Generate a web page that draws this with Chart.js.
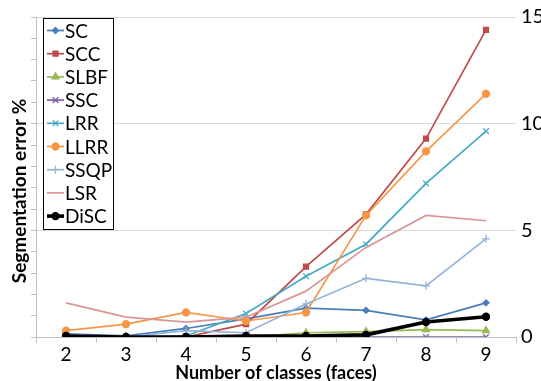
<!DOCTYPE html>
<html>
<head>
<meta charset="utf-8">
<script src="https://cdn.jsdelivr.net/npm/chart.js@4/dist/chart.umd.min.js"></script>
<style>
  html, body { margin: 0; padding: 0; background: #fff; }
  #wrap { width: 541px; height: 381px; }
</style>
</head>
<body>
<div id="wrap"><canvas id="chartSeg" width="541" height="381"></canvas></div>
<script>
// ---------- datos ----------
const classes = ['2', '3', '4', '5', '6', '7', '8', '9'];

const scValues   = [0.15, 0.05, 0.4, 0.85, 1.35, 1.25, 0.8, 1.6];
const sccValues  = [0.05, 0, 0, 0.6, 3.3, 5.75, 9.3, 14.4];
const slbfValues = [0, 0, 0, 0, 0.2, 0.25, 0.35, 0.3];
const sscValues  = [0, 0, 0, 0, 0, 0, 0, 0];
const lrrValues  = [0.05, 0, 0.05, 1.1, 2.85, 4.35, 7.2, 9.65];
const llrrValues = [0.3, 0.6, 1.15, 0.75, 1.15, 5.7, 8.7, 11.4];
const ssqpValues = [0.1, 0, 0.3, 0.2, 1.55, 2.75, 2.4, 4.6];
const lsrValues  = [1.6, 0.93, 0.7, 0.93, 2.15, 4.2, 5.7, 5.45];
const discValues = [0.05, 0, 0, 0.05, 0.05, 0.1, 0.7, 0.95];

const rightTicks = [0, 5, 10, 15];

(function () {
    'use strict';

    const FONT = "Lato, 'Liberation Sans', sans-serif";

    function line(label, data, color, style, radius, width) {
        return {
            label: label,
            data: data,
            borderColor: color,
            backgroundColor: color,
            borderWidth: width || 1.7,
            pointStyle: style,
            pointRadius: radius,
            pointBorderWidth: 1.3,
            pointHoverRadius: radius,
            tension: 0,
            fill: false,
            yAxisID: 'yR'
        };
    }

    // Las series se dibujan en orden inverso para que DiSC quede arriba
    const datasets = [
        line('SC', scValues, '#4A7EBB', 'rectRot', 3),
        line('SCC', sccValues, '#BE4B48', 'rect', 3.5),
        line('SLBF', slbfValues, '#98B954', 'triangle', 4),
        line('SSC', sscValues, '#7D60A0', 'crossRot', 4),
        line('LRR', lrrValues, '#46AAC5', 'crossRot', 4),
        line('LLRR', llrrValues, '#F79646', 'circle', 3.5),
        line('SSQP', ssqpValues, '#95B3D7', 'cross', 4),
        line('LSR', lsrValues, '#D99694', false, 0),
        line('DiSC', discValues, '#000000', 'circle', 3.5, 3.6)
    ];
    datasets.forEach(function (d, i) { d.order = datasets.length - i; });

    // Título vertical (Excel lo deja algo más abajo que el centro del eje)
    const yTitle = {
        id: 'yTitle',
        afterDraw: function (chart) {
            const ctx = chart.ctx;
            ctx.save();
            ctx.translate(20, 191);
            ctx.rotate(-Math.PI / 2);
            ctx.font = 'bold 19px ' + FONT;
            ctx.fillStyle = '#000';
            ctx.textAlign = 'center';
            ctx.textBaseline = 'middle';
            ctx.fillText('Segmentation error %', 0, 0);
            ctx.restore();
        }
    };

    // Leyenda con borde, dentro del área del gráfico
    const boxLegend = {
        id: 'boxLegend',
        afterDraw: function (chart) {
            const ctx = chart.ctx;
            const x0 = 43, y0 = 18, w = 70, h = 211, rowH = 23.2;
            ctx.save();
            ctx.fillStyle = '#ffffff';
            ctx.fillRect(x0, y0, w, h);
            ctx.strokeStyle = '#000000';
            ctx.lineWidth = 1;
            ctx.strokeRect(x0 + 0.5, y0 + 0.5, w, h);

            ctx.font = '19px ' + FONT;
            ctx.textBaseline = 'middle';
            chart.data.datasets.forEach(function (ds, i) {
                const y = y0 + 12.5 + i * rowH;
                ctx.strokeStyle = ds.borderColor;
                ctx.lineWidth = ds.borderWidth;
                ctx.beginPath();
                ctx.moveTo(x0 + 4, y);
                ctx.lineTo(x0 + 21, y);
                ctx.stroke();
                if (ds.pointStyle && Chart.helpers && Chart.helpers.drawPoint) {
                    ctx.fillStyle = ds.backgroundColor;
                    ctx.lineWidth = ds.pointBorderWidth;
                    Chart.helpers.drawPoint(ctx, {
                        pointStyle: ds.pointStyle,
                        radius: ds.pointRadius,
                        rotation: 0,
                        borderWidth: ds.pointBorderWidth
                    }, x0 + 12.5, y);
                }
                ctx.fillStyle = '#000000';
                ctx.fillText(ds.label, x0 + 22, y + 1);
            });
            ctx.restore();
        }
    };

    const ctx = document.getElementById('chartSeg').getContext('2d');

    new Chart(ctx, {
        type: 'line',
        data: { labels: classes, datasets: datasets },
        options: {
            responsive: false,
            animation: false,
            events: [],
            layout: { padding: { top: 14, left: 0, right: 0, bottom: 0 } },
            plugins: {
                legend: { display: false },
                tooltip: { enabled: false }
            },
            scales: {
                x: {
                    type: 'category',
                    offset: true,
                    border: { color: '#BFBFBF', width: 1 },
                    grid: {
                        offset: true,
                        drawOnChartArea: false,
                        drawTicks: true,
                        tickLength: 6,
                        color: '#BFBFBF'
                    },
                    ticks: {
                        color: '#000',
                        padding: 0,
                        font: { family: FONT, size: 19 }
                    },
                    title: {
                        display: true,
                        text: 'Number of classes (faces)',
                        color: '#000',
                        padding: { top: 0, bottom: -3 },
                        font: { family: FONT, size: 18, weight: 'bold' }
                    },
                    afterFit: function (axis) { axis.height = 44; }
                },
                yL: {
                    position: 'left',
                    min: 0,
                    max: 15,
                    border: { color: '#BFBFBF', width: 1 },
                    grid: {
                        drawOnChartArea: false,
                        drawTicks: true,
                        tickLength: 5,
                        color: '#BFBFBF'
                    },
                    ticks: { stepSize: 1, display: false },
                    afterFit: function (axis) { axis.width = 36; }
                },
                yR: {
                    position: 'right',
                    min: 0,
                    max: 15,
                    border: { display: false },
                    grid: {
                        drawOnChartArea: true,
                        drawTicks: false,
                        color: '#D9D9D9'
                    },
                    afterBuildTicks: function (axis) {
                        axis.ticks = rightTicks.map(function (v) { return { value: v }; });
                    },
                    ticks: {
                        color: '#000',
                        padding: 5,
                        font: { family: FONT, size: 20 }
                    },
                    afterFit: function (axis) { axis.width = 25; }
                }
            }
        },
        plugins: [yTitle, boxLegend]
    });
})();
</script>
</body>
</html>
